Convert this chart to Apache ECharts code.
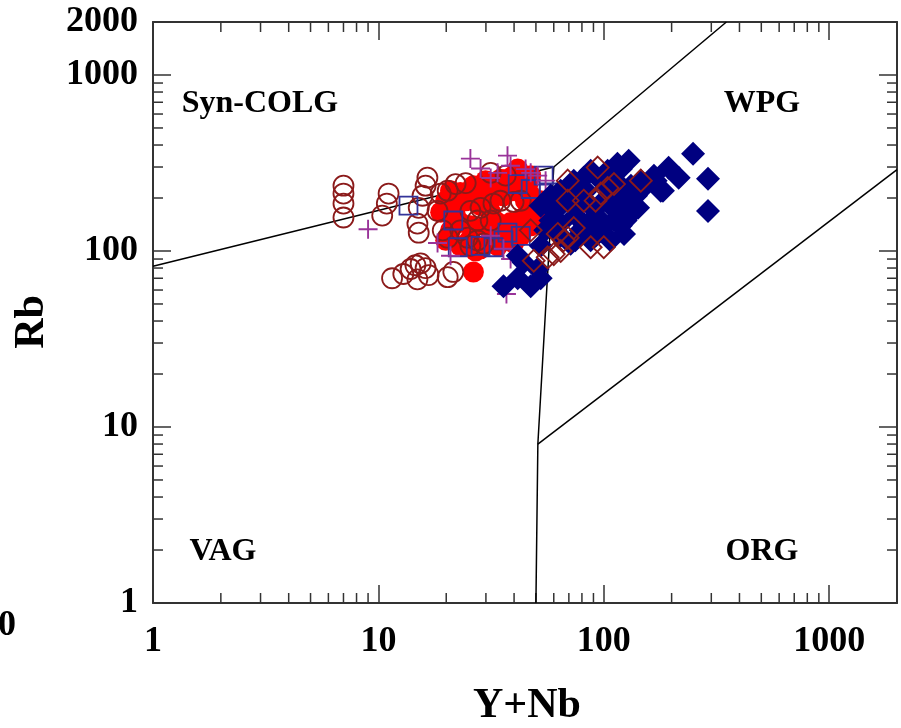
<!DOCTYPE html>
<html>
<head>
<meta charset="utf-8">
<title>Rb vs Y+Nb</title>
<script src="https://cdn.jsdelivr.net/npm/echarts@6/dist/echarts.min.js"></script>
<style>
  html, body { margin: 0; padding: 0; background: #fff; }
  #chart { width: 901px; height: 728px; }
</style>
</head>
<body>
<div id="chart"></div>
<script>
// minor ticks (2..9 of each decade)
const minorTicks = [2, 3, 4, 5, 6, 7, 8, 9, 20, 30, 40, 50, 60, 70, 80, 90, 200, 300, 400, 500, 600, 700, 800, 900];

// field boundaries [Y+Nb, Rb]
const vagColgLine = [[1, 82], [60, 300]];
const colgWpgLine = [[60, 300], [350, 2000]];
const vagWpgLine = [[60, 300], [51, 8], [50, 1]];
const wpgOrgLine = [[51, 8], [2000, 290]];

// samples [Y+Nb, Rb]
const brownCircles = [
  [7.0, 235], [7.0, 212], [7.0, 186], [7.0, 155],
  [11.1, 212], [10.9, 186], [10.4, 159],
  [16.5, 261], [16.2, 235], [15.7, 206], [15.1, 176], [15.1, 127], [14.9, 143],
  [18.9, 212], [20.3, 220], [22, 240], [24.4, 243], [31.5, 278], [36.7, 268],
  [25.6, 169], [28.4, 176], [32.4, 186], [34.8, 193], [39.8, 190], [42.8, 193],
  [27.5, 149], [31.5, 149], [23.1, 131], [24.9, 119], [27.5, 115],
  [18.3, 169], [19.3, 131], [20.3, 119], [25.6, 107], [29.3, 110],
  [11.5, 70], [12.9, 74], [13.9, 79], [14.6, 83], [15.4, 85], [16.2, 80],
  [14.9, 69], [16.7, 73], [20.3, 71], [21.5, 76]
];
const redCircles = [
  [41.5, 292], [39.8, 268], [18.9, 166], [20.9, 181], [23.1, 215], [23.1, 193],
  [23.1, 145], [19.9, 115], [20.9, 131], [25.6, 117], [23.9, 107], [28.4, 103],
  [33.8, 107], [37.4, 117], [39.8, 111], [50.9, 166], [48.9, 181], [47.4, 206],
  [45.9, 235], [35.9, 206], [31.5, 166], [28.4, 181], [33.8, 145], [38.6, 145],
  [42.8, 152], [26.4, 235], [32.4, 243], [37.4, 256], [44.1, 256], [26.4, 76],
  [20.9, 220], [24.4, 193], [27, 206], [29.9, 220], [33.1, 206], [36.6, 225],
  [40.6, 220], [44.9, 193], [52.5, 193], [55, 159], [47.4, 139], [42.8, 122],
  [34.8, 131], [29.9, 139], [25.6, 139], [22, 159], [19.9, 193], [23.1, 107],
  [31.5, 115], [27, 100], [42.8, 251], [47.4, 268], [34.8, 256], [29.9, 251]
];
const crosses = [
  [9.0, 133], [25.6, 335], [28.4, 294], [37.4, 348], [38.6, 305], [33.8, 278],
  [47.4, 278], [55.2, 251], [50.9, 268], [45, 292], [31.5, 260],
  [18.3, 111], [20.9, 94], [35.9, 103], [38.6, 90], [31.5, 122], [37, 57],
  [72.8, 172], [77.4, 166], [81.5, 155], [73.9, 155]
];
const openSquares = [
  [13.6, 181], [21.5, 149], [22.5, 105], [32.4, 105], [35.9, 115], [42.8, 122],
  [41.5, 240], [47.4, 225], [54.1, 268], [57, 215], [28.4, 107], [37.4, 127]
];
const navyDiamonds = [
  [249, 357], [290, 257], [290, 169], [183, 220], [194, 297], [215, 261], [167, 268],
  [129, 326], [119, 292], [146, 251], [179, 220], [123, 125], [111, 149], [132, 163],
  [142, 176], [87.5, 115], [79, 131], [71.3, 110], [64.4, 143], [60, 169], [62.5, 201],
  [69.2, 220], [73.6, 251], [81.5, 261], [104, 286], [115, 313], [97, 186], [107, 212],
  [119, 186], [87.5, 286], [87.5, 181], [97, 149], [79, 193], [125, 206],
  [64.4, 181], [74.8, 159], [83.5, 139], [92, 159], [101, 139], [113, 169], [125, 149],
  [139, 206], [153, 235], [170, 251], [132, 235], [113, 251], [97, 251], [83.5, 220],
  [71.3, 193], [64.4, 122], [74.8, 115], [92, 122], [107, 115], [119, 139], [64.4, 220],
  [58, 149], [55, 131], [52.5, 107],
  [35.9, 63], [41.5, 70], [47.4, 63], [52.5, 70], [50.9, 79], [44.1, 86], [41.5, 94],
  [52.5, 181], [58.1, 206]
];
const brownDiamonds = [
  [94, 298], [104, 228], [111, 240], [97, 212], [92, 193], [146, 251], [69.2, 193],
  [69.2, 251], [73.6, 135], [69.2, 119], [64.4, 100], [60, 96], [56.4, 92], [100, 105],
  [87.5, 105], [81.5, 193], [66.4, 115], [48.9, 88], [47.4, 131], [62.5, 125]
];

const fontFamily = '"Liberation Serif", "DejaVu Serif", serif';
const frameColor = '#333';
const crossPath = 'path://M9,0H11V9H20V11H11V20H9V11H0V9H9Z';

function logAxis(pos, showLabels, margin, showMax) {
  return {
    type: 'log',
    logBase: 10,
    min: 1,
    max: 2000,
    position: pos,
    axisLine: { show: true, lineStyle: { color: frameColor, width: 2 } },
    axisTick: { show: true, inside: true, length: 18, lineStyle: { color: frameColor, width: 1.5 } },
    splitLine: { show: false },
    axisLabel: {
      show: showLabels,
      margin: margin,
      showMaxLabel: showMax,
      color: '#000',
      fontFamily: fontFamily,
      fontWeight: 'bold',
      fontSize: 36,
      formatter: v => String(Math.round(v))
    }
  };
}

function boundary(data) {
  return {
    type: 'line',
    data: data,
    symbol: 'none',
    silent: true,
    lineStyle: { color: '#000', width: 1.5 },
    z: 1
  };
}

function tickLine(x1, y1, x2, y2) {
  return {
    type: 'line',
    shape: { x1: x1, y1: y1, x2: x2, y2: y2 },
    style: { stroke: frameColor, lineWidth: 1.5 }
  };
}

function label(text, x, y, size, rot) {
  return {
    type: 'text',
    x: x,
    y: y,
    rotation: rot || 0,
    style: {
      text: text,
      fill: '#000',
      fontFamily: fontFamily,
      fontWeight: 'bold',
      fontSize: size,
      align: 'center',
      verticalAlign: 'middle',
      textAlign: 'center',
      textVerticalAlign: 'middle'
    }
  };
}

const chart = echarts.init(document.getElementById('chart'));
chart.setOption({
  animation: false,
  backgroundColor: '#fff',
  grid: { left: 153, right: 4, top: 22, bottom: 125 },
  xAxis: [
    logAxis('bottom', true, 21, false),
    logAxis('top', false, 8, false)
  ],
  yAxis: [
    logAxis('left', true, 15, true),
    logAxis('right', false, 8, false)
  ],
  graphic: [
    label('Syn-COLG', 260, 104, 32),
    label('WPG', 762, 104, 32),
    label('VAG', 223, 552, 32),
    label('ORG', 762, 552, 32),
    label('Y+Nb', 527, 706, 42),
    label('Rb', 32, 322, 42, Math.PI / 2),
    label('0', 7, 626, 36)
  ],
  series: [
    boundary(vagColgLine),
    boundary(colgWpgLine),
    boundary(vagWpgLine),
    boundary(wpgOrgLine),
    {
      // minor ticks on all four sides
      type: 'custom',
      silent: true,
      data: minorTicks.map(v => [v, v]),
      renderItem: function (params, api) {
        const v = api.value(0);
        const b = api.coord([v, 1]);
        const t = api.coord([v, 2000]);
        const l = api.coord([1, v]);
        const r = api.coord([2000, v]);
        return {
          type: 'group',
          children: [
            tickLine(b[0], b[1], b[0], b[1] - 10),
            tickLine(t[0], t[1], t[0], t[1] + 10),
            tickLine(l[0], l[1], l[0] + 10, l[1]),
            tickLine(r[0], r[1], r[0] - 10, r[1])
          ]
        };
      },
      z: 1
    },
    {
      type: 'scatter',
      data: redCircles,
      symbol: 'circle',
      symbolSize: 21,
      itemStyle: { color: '#ff0000', opacity: 1 },
      z: 2
    },
    {
      type: 'scatter',
      data: brownCircles,
      symbol: 'circle',
      symbolSize: 20,
      itemStyle: { color: 'rgba(0,0,0,0)', borderColor: '#8b1a1a', borderWidth: 1.8, opacity: 1 },
      z: 3
    },
    {
      type: 'scatter',
      data: openSquares,
      symbol: 'rect',
      symbolSize: 18,
      itemStyle: { color: 'rgba(0,0,0,0)', borderColor: '#333399', borderWidth: 1.8, opacity: 1 },
      z: 4
    },
    {
      type: 'scatter',
      data: crosses,
      symbol: crossPath,
      symbolSize: 19,
      itemStyle: { color: '#993399', opacity: 1 },
      z: 5
    },
    {
      type: 'scatter',
      data: navyDiamonds,
      symbol: 'diamond',
      symbolSize: 24,
      itemStyle: { color: '#000080', opacity: 1 },
      z: 6
    },
    {
      type: 'scatter',
      data: brownDiamonds,
      symbol: 'diamond',
      symbolSize: 22,
      itemStyle: { color: 'rgba(0,0,0,0)', borderColor: '#8b1a1a', borderWidth: 1.8, opacity: 1 },
      z: 7
    }
  ]
});
</script>
</body>
</html>
